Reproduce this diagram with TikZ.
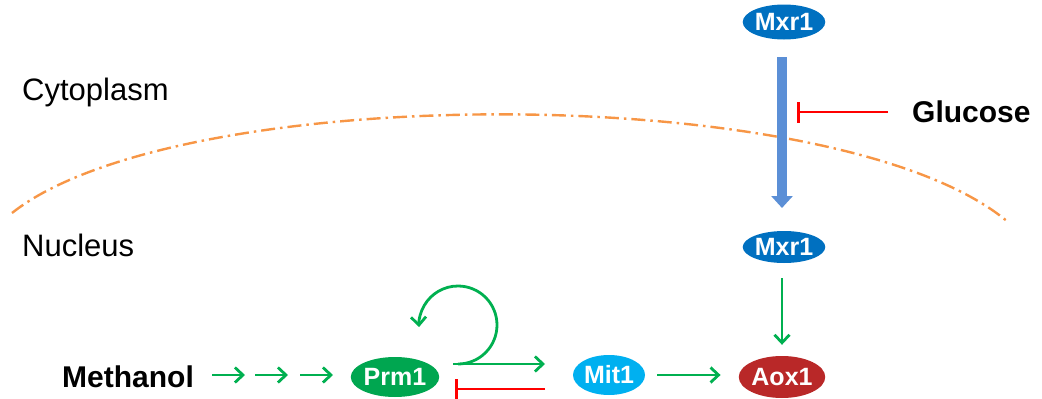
\documentclass[tikz,border=0pt]{standalone}
\usepackage{fontspec}
\setmainfont{Liberation Sans}
\usetikzlibrary{arrows.meta,shapes.geometric}
\definecolor{mxrblue}{RGB}{0,112,192}
\definecolor{mitblue}{RGB}{0,176,240}
\definecolor{prmgreen}{RGB}{0,166,80}
\definecolor{aoxred}{RGB}{185,40,40}
\definecolor{agreen}{RGB}{0,176,80}
\definecolor{bigblue}{RGB}{91,143,214}
\definecolor{membrane}{RGB}{247,150,70}
\definecolor{inhred}{RGB}{255,0,0}
\tikzset{
  prot/.style={ellipse, inner sep=0pt, text=white, font=\fontsize{25}{28}\selectfont\bfseries},
  lbl/.style={inner sep=0pt, anchor=west, font=\fontsize{31}{34}\selectfont},
  blbl/.style={inner sep=0pt, anchor=west, font=\fontsize{30}{34}\selectfont\bfseries},
  garrow/.style={draw=agreen, line width=2.8pt, -{Straight Barb[length=8pt,width=15pt]}},
  inhib/.style={draw=inhred, line width=2.8pt, -{Bar[width=21pt,line width=2.8pt]}},
  bigarrow/.style={draw=bigblue, line width=10pt, -{Triangle[length=12pt,width=21pt]}},
  memb/.style={draw=membrane, line width=2.4pt, dash pattern=on 14pt off 5pt on 2.5pt off 5pt}
}
\begin{document}
\begin{tikzpicture}[x=1pt,y=1pt]
\useasboundingbox (0,0) rectangle (1042,-399);
% membrane
\draw[memb] (12,-213) .. controls (180,-80) and (840,-80) .. (1008,-222);
% labels
\node[lbl] (cyto) at (22,-92) {Cytoplasm};
\node[lbl] (nuc) at (22,-245) {Nucleus};
\node[blbl] (meth) at (62,-377) {Methanol};
\node[blbl] (glu) at (912,-112) {Glucose};
% proteins
\node[prot, fill=mxrblue, minimum width=78pt, minimum height=35pt] (mxrtop) at (784,-22) {Mxr1};
\node[prot, fill=mxrblue, minimum width=78pt, minimum height=32pt] (mxrbot) at (784,-247) {Mxr1};
\node[prot, fill=prmgreen, minimum width=76pt, minimum height=40pt] (prm) at (395,-377) {Prm1};
\node[prot, fill=mitblue, minimum width=72pt, minimum height=40pt] (mit) at (609,-375) {Mit1};
\node[prot, fill=aoxred, minimum width=74pt, minimum height=42pt] (aox) at (782,-377) {Aox1};
% big translocation arrow
\coordinate (bigs) at (782,-57);
\coordinate (bige) at (782,-208);
\draw[bigarrow] (bigs) -- (bige);
% glucose inhibition
\coordinate (glus) at (888,-112);
\coordinate (glue) at (797,-112);
\draw[inhib] (glus) -- (glue);
% Mxr1 -> Aox1
\draw[garrow] ([xshift=-2pt,yshift=-15pt]mxrbot.south) -- ([yshift=11pt]aox.north);
% methanol arrows
\coordinate (m1a) at (212,-375); \coordinate (m1b) at (245,-375);
\coordinate (m2a) at (255,-375); \coordinate (m2b) at (288,-375);
\coordinate (m3a) at (300,-375); \coordinate (m3b) at (333,-375);
\draw[garrow] (m1a) -- (m1b);
\draw[garrow] (m2a) -- (m2b);
\draw[garrow] (m3a) -- (m3b);
% Prm1 -> Mit1
\coordinate (pm1) at (453,-364);
\coordinate (pm2) at (545,-364);
\draw[garrow] (pm1) -- (pm2);
% self loop
\coordinate (loops) at (458,-364);
\draw[garrow] (loops) arc[start angle=-90, end angle=183, radius=39];
% Mit1 -| Prm1
\coordinate (mp1) at (545,-389);
\coordinate (mp2) at (455,-389);
\draw[inhib] (mp1) -- (mp2);
% Mit1 -> Aox1
\draw[garrow] ([xshift=12pt]mit.east) -- ([xshift=-18pt,yshift=2pt]aox.west);
\end{tikzpicture}
\end{document}
